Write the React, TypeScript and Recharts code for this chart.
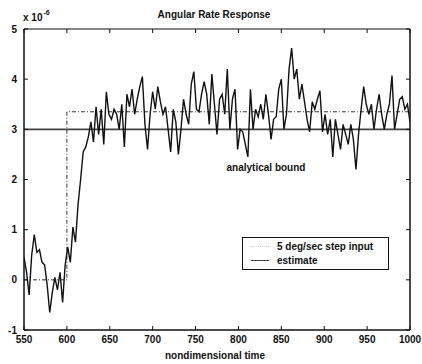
import React from "react";
import { LineChart, Line, XAxis, YAxis } from "recharts";

const xTicks = [550, 600, 650, 700, 750, 800, 850, 900, 950, 1000];
const yTicks = [-1, 0, 1, 2, 3, 4, 5];

// estimate samples: [nondimensional time, rate (x 1e-6)]
const estimate: [number, number][] = [
  [550, 0.45], [553, 0.15], [556, -0.3], [559, 0.5], [562, 0.9], [565, 0.55], [568, 0.6], [571, 0.35],
  [574, 0.3], [577, -0.1], [580, -0.65], [583, -0.25], [586, 0.05], [589, -0.2], [592, 0.15], [595, -0.45],
  [598, 0.3], [601, 0.65], [604, 0.35], [607, 1.05], [610, 0.75], [613, 1.5], [616, 2.0], [619, 2.55],
  [622, 2.65], [625, 2.85], [628, 3.15], [631, 2.75], [634, 3.45], [637, 2.9], [640, 3.4], [643, 2.7],
  [646, 3.75], [649, 3.3], [652, 3.2], [655, 3.4], [658, 3.3], [661, 3.0], [664, 3.5], [667, 2.65],
  [670, 3.7], [673, 3.45], [676, 3.8], [679, 3.3], [682, 3.6], [685, 3.85], [688, 4.05], [691, 3.1],
  [694, 2.6], [697, 3.3], [700, 3.75], [703, 3.4], [706, 3.85], [709, 3.55], [712, 3.3], [715, 3.45],
  [718, 3.0], [721, 2.55], [724, 3.4], [727, 3.15], [730, 2.5], [733, 3.0], [736, 3.6], [739, 3.3],
  [742, 3.1], [745, 3.9], [748, 4.15], [751, 3.4], [754, 3.35], [757, 3.7], [760, 3.95], [763, 3.7],
  [766, 3.1], [769, 4.1], [772, 3.5], [775, 2.9], [778, 3.6], [781, 3.7], [784, 3.3], [787, 4.2],
  [790, 3.0], [793, 3.6], [796, 3.8], [799, 2.6], [802, 3.0], [805, 2.95], [808, 2.7], [811, 2.45],
  [814, 3.8], [817, 3.0], [820, 3.4], [823, 3.25], [826, 3.5], [829, 3.2], [832, 3.7], [835, 3.3],
  [838, 2.8], [841, 3.2], [844, 3.25], [847, 3.8], [850, 4.0], [853, 3.0], [856, 3.3], [859, 4.2],
  [862, 4.62], [865, 4.0], [868, 4.2], [871, 3.6], [874, 3.9], [877, 3.55], [880, 3.2], [883, 2.95],
  [886, 3.55], [889, 3.4], [892, 3.6], [895, 3.77], [898, 2.95], [901, 3.3], [904, 2.9], [907, 3.2],
  [910, 2.45], [913, 3.2], [916, 2.9], [919, 2.6], [922, 3.1], [925, 2.9], [928, 2.7], [931, 3.1],
  [934, 2.8], [937, 2.2], [940, 2.9], [943, 3.4], [946, 3.85], [949, 3.5], [952, 3.3], [955, 3.5],
  [958, 3.0], [961, 3.4], [964, 3.7], [967, 3.3], [970, 3.0], [973, 3.3], [976, 3.5], [979, 4.07],
  [982, 3.0], [985, 3.3], [988, 3.6], [991, 3.65], [994, 3.4], [997, 3.5], [1000, 3.15],
];

const stepTimes = [550, 600, 600, 1000];
const stepValues = [0, 0, 3.35, 3.35];
const boundTimes = [550, 1000];
const boundValues = [3, 3];

const estimateData = estimate.map(([t, v]) => ({ t, v }));
const stepData = stepTimes.map((t, i) => ({ t, v: stepValues[i] }));
const boundData = boundTimes.map((t, i) => ({ t, v: boundValues[i] }));

const FONT = "'Liberation Sans', Arial, Helvetica, sans-serif";
const INK = "#111";
const TICK_LEN = 4;

const BottomTick = (props: any) => {
  const { x, y, payload } = props;
  const axisY = y - 6;
  return (
    <g>
      <line x1={x} x2={x} y1={axisY} y2={axisY - TICK_LEN} stroke={INK} strokeWidth={1} />
      <text x={x} y={y} dy="0.71em" textAnchor="middle" fontSize={10} fontWeight={700} fill={INK} fontFamily={FONT}>
        {payload.value}
      </text>
    </g>
  );
};

const TopTick = (props: any) => {
  const { x, y } = props;
  const axisY = y + 2;
  return <line x1={x} x2={x} y1={axisY} y2={axisY + TICK_LEN} stroke={INK} strokeWidth={1} />;
};

const LeftTick = (props: any) => {
  const { x, y, payload } = props;
  const axisX = x + 7;
  return (
    <g>
      <line x1={axisX} x2={axisX + TICK_LEN} y1={y} y2={y} stroke={INK} strokeWidth={1} />
      <text x={x} y={y} dy="0.355em" textAnchor="end" fontSize={10} fontWeight={700} fill={INK} fontFamily={FONT}>
        {payload.value}
      </text>
    </g>
  );
};

const RightTick = (props: any) => {
  const { x, y } = props;
  const axisX = x - 2;
  return <line x1={axisX} x2={axisX - TICK_LEN} y1={y} y2={y} stroke={INK} strokeWidth={1} />;
};

const txt = (x: number, y: number, s: React.ReactNode, extra: React.CSSProperties = {}) => (
  <div
    style={{
      position: "absolute",
      left: x,
      top: y,
      transform: "translate(-50%, -50%)",
      fontFamily: FONT,
      fontWeight: 700,
      fontSize: 10,
      lineHeight: 1,
      whiteSpace: "nowrap",
      color: INK,
      ...extra,
    }}
  >
    {s}
  </div>
);

const LegendBox = () => (
  <div
    style={{
      position: "absolute",
      left: 242,
      top: 237,
      width: 145,
      height: 31,
      border: "1px solid #111",
      background: "#fff",
      fontFamily: FONT,
      fontWeight: 700,
      fontSize: 10,
      color: INK,
    }}
  >
    <div style={{ position: "absolute", left: 8, top: 8, width: 18, borderTop: "1px dotted #ccc" }} />
    <div style={{ position: "absolute", left: 34, top: 3, lineHeight: "11px" }}>5 deg/sec step input</div>
    <div style={{ position: "absolute", left: 8, top: 22, width: 18, borderTop: "1px solid #444" }} />
    <div style={{ position: "absolute", left: 34, top: 17, lineHeight: "11px" }}>estimate</div>
  </div>
);

export default function App() {
  return (
    <div style={{ position: "absolute", left: 0, top: 0, width: 422, height: 364, background: "#fff" }}>
      <LineChart width={422} height={364} margin={{ top: 28, right: 11, bottom: 0, left: 0 }}>
        <XAxis
          xAxisId="b"
          dataKey="t"
          type="number"
          domain={[550, 1000]}
          ticks={xTicks}
          allowDataOverflow
          height={34}
          tickSize={0}
          tickMargin={6}
          tick={<BottomTick />}
          tickLine={false}
          axisLine={{ stroke: INK, strokeWidth: 1.5 }}
          interval={0}
        />
        <XAxis
          xAxisId="t"
          orientation="top"
          dataKey="t"
          type="number"
          domain={[550, 1000]}
          ticks={xTicks}
          allowDataOverflow
          height={1}
          tickSize={0}
          tickMargin={2}
          tick={<TopTick />}
          tickLine={false}
          axisLine={{ stroke: INK, strokeWidth: 1 }}
          interval={0}
        />
        <YAxis
          yAxisId="l"
          type="number"
          domain={[-1, 5]}
          ticks={yTicks}
          allowDataOverflow
          width={24}
          tickSize={0}
          tickMargin={7}
          tick={<LeftTick />}
          tickLine={false}
          axisLine={{ stroke: INK, strokeWidth: 1.5 }}
          interval={0}
        />
        <YAxis
          yAxisId="r"
          orientation="right"
          type="number"
          domain={[-1, 5]}
          ticks={yTicks}
          allowDataOverflow
          width={1}
          tickSize={0}
          tickMargin={2}
          tick={<RightTick />}
          tickLine={false}
          axisLine={{ stroke: INK, strokeWidth: 1.5 }}
          interval={0}
        />
        <Line
          xAxisId="b"
          yAxisId="l"
          data={boundData}
          dataKey="v"
          type="linear"
          stroke="#444"
          strokeWidth={1.6}
          dot={false}
          isAnimationActive={false}
          name="analytical bound"
        />
        <Line
          xAxisId="b"
          yAxisId="l"
          data={stepData}
          dataKey="v"
          type="linear"
          stroke="#333"
          strokeWidth={1}
          strokeDasharray="4 2 1 2"
          dot={false}
          isAnimationActive={false}
          name="5 deg/sec step input"
        />
        <Line
          xAxisId="b"
          yAxisId="l"
          data={estimateData}
          dataKey="v"
          type="linear"
          stroke={INK}
          strokeWidth={1.4}
          dot={false}
          isAnimationActive={false}
          name="estimate"
        />
      </LineChart>
      <LegendBox />
      {txt(214, 15, "Angular Rate Response")}
      <div
        style={{
          position: "absolute",
          left: 23,
          top: 13,
          fontFamily: FONT,
          fontWeight: 700,
          fontSize: 10,
          lineHeight: 1,
          color: INK,
          whiteSpace: "nowrap",
        }}
      >
        x 10<span style={{ position: "relative", top: -6, fontSize: 7, marginLeft: 1 }}>-6</span>
      </div>
      {txt(266, 168, "analytical bound")}
      {txt(215, 356, "nondimensional time")}
    </div>
  );
}
